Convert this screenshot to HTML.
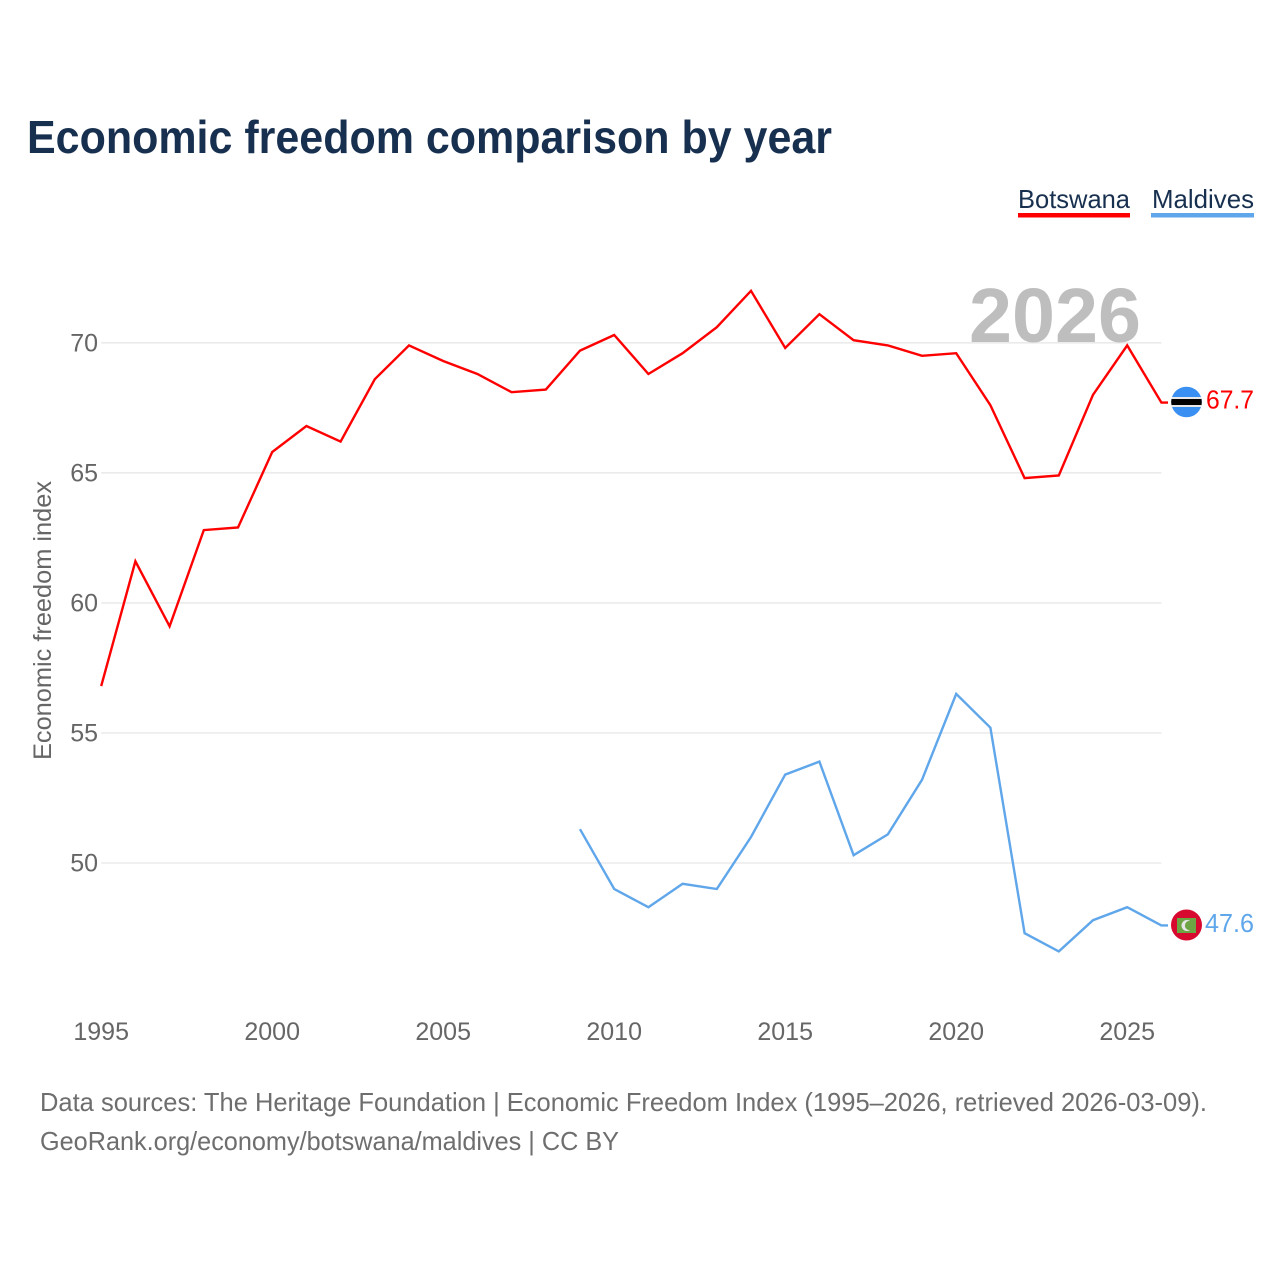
<!DOCTYPE html>
<html lang="en">
<head>
<meta charset="utf-8">
<title>Economic freedom comparison by year</title>
<style>
html,body{margin:0;padding:0;background:#fff;}
svg{display:block;font-family:"Liberation Sans",sans-serif;}
</style>
</head>
<body>
<svg id="chart" xmlns="http://www.w3.org/2000/svg" width="1280" height="1280" viewBox="0 0 1280 1280">
  <rect width="1280" height="1280" fill="#ffffff"/>
  <text x="27" y="153" font-size="46" font-weight="700" fill="#18304f" textLength="805" lengthAdjust="spacingAndGlyphs">Economic freedom comparison by year</text>
  <g id="grid"></g>
  <text x="969" y="342" font-size="77" font-weight="700" fill="#bebebe" textLength="172" lengthAdjust="spacingAndGlyphs">2026</text>
  <g id="yticks"></g>
  <g id="xticks"></g>
  <text transform="translate(51,760) rotate(-90)" font-size="25" fill="#666666" textLength="279" lengthAdjust="spacingAndGlyphs">Economic freedom index</text>
  <g id="series"></g>

  <g>
    <text x="1018" y="208" font-size="26" fill="#18304f" textLength="112" lengthAdjust="spacingAndGlyphs">Botswana</text>
    <rect x="1018" y="213" width="112" height="4.5" fill="#ff0000"/>
  </g>
  <g>
    <text x="1152" y="208" font-size="26" fill="#18304f" textLength="102" lengthAdjust="spacingAndGlyphs">Maldives</text>
    <rect x="1151" y="213" width="103" height="4.5" fill="#5fa6ea"/>
  </g>

  <defs>
    <clipPath id="clip-bw"><circle cx="1186.5" cy="402" r="15.3"/></clipPath>
    <clipPath id="clip-mv"><circle cx="1186.5" cy="925" r="15.5"/></clipPath>
  </defs>
  <g id="flag-botswana" clip-path="url(#clip-bw)">
    <rect x="1170" y="386" width="34" height="32" fill="#3a8ff2"/>
    <rect x="1170" y="397" width="34" height="10" fill="#e8e8e8"/>
    <rect x="1170" y="399" width="34" height="6" fill="#000000"/>
  </g>
  <g id="flag-maldives" clip-path="url(#clip-mv)">
    <rect x="1170" y="909" width="34" height="32" fill="#d8092f"/>
    <rect x="1177" y="918" width="19" height="15" fill="#6ea544"/>
    <circle cx="1187" cy="925.5" r="5.5" fill="#e6e6e6"/>
    <circle cx="1189.5" cy="925.5" r="4.6" fill="#6ea544"/>
  </g>

  <text x="1206" y="408.5" font-size="26" fill="#ff0000" textLength="48" lengthAdjust="spacingAndGlyphs">67.7</text>
  <text x="1205" y="932" font-size="26" fill="#5fa6ea" textLength="49" lengthAdjust="spacingAndGlyphs">47.6</text>

  <g font-size="26" fill="#6e6e6e">
    <text x="40" y="1111" textLength="1167" lengthAdjust="spacingAndGlyphs">Data sources: The Heritage Foundation | Economic Freedom Index (1995–2026, retrieved 2026-03-09).</text>
    <text x="40" y="1150" textLength="579" lengthAdjust="spacingAndGlyphs">GeoRank.org/economy/botswana/maldives | CC BY</text>
  </g>
</svg>
<script>
const botswanaYears = [1995,1996,1997,1998,1999,2000,2001,2002,2003,2004,2005,2006,2007,2008,2009,2010,2011,2012,2013,2014,2015,2016,2017,2018,2019,2020,2021,2022,2023,2024,2025,2026];
const botswanaValues = [56.8,61.6,59.1,62.8,62.9,65.8,66.8,66.2,68.6,69.9,69.3,68.8,68.1,68.2,69.7,70.3,68.8,69.6,70.6,72.0,69.8,71.1,70.1,69.9,69.5,69.6,67.6,64.8,64.9,68.0,69.9,67.7];
const maldivesYears = [2009,2010,2011,2012,2013,2014,2015,2016,2017,2018,2019,2020,2021,2022,2023,2024,2025,2026];
const maldivesValues = [51.3,49.0,48.3,49.2,49.0,51.0,53.4,53.9,50.3,51.1,53.2,56.5,55.2,47.3,46.6,47.8,48.3,47.6];
const yTicks = [50,55,60,65,70];
const xTicks = [1995,2000,2005,2010,2015,2020,2025];

const NS = 'http://www.w3.org/2000/svg';
function xScale(year){ return 101.2 + (year - 1995) * 34.2; }
function yScale(value){ return 863.0 - (value - 50) * 26.01; }

const grid = document.getElementById('grid');
const yGroup = document.getElementById('yticks');
yTicks.forEach(function(t){
  const line = document.createElementNS(NS,'line');
  
  
  line.setAttribute('x1', xScale(1995));
  line.setAttribute('x2', xScale(2026));
  line.setAttribute('y1', yScale(t));
  line.setAttribute('y2', yScale(t));
  line.setAttribute('stroke', '#ebebeb');
  line.setAttribute('stroke-width', '1.6');
  grid.appendChild(line);
  const label = document.createElementNS(NS,'text');
  
  
  label.setAttribute('x', 98);
  label.setAttribute('y', yScale(t) + 8.5);
  label.setAttribute('text-anchor', 'end');
  label.setAttribute('font-size', '25');
  label.setAttribute('fill', '#666666');
  label.textContent = t;
  yGroup.appendChild(label);
});

const xGroup = document.getElementById('xticks');
xTicks.forEach(function(t){
  const label = document.createElementNS(NS,'text');
  
  
  label.setAttribute('x', xScale(t));
  label.setAttribute('y', 1040);
  label.setAttribute('text-anchor', 'middle');
  label.setAttribute('font-size', '25');
  label.setAttribute('fill', '#666666');
  label.textContent = t;
  xGroup.appendChild(label);
});

function pointsFor(years, values){
  return years.map(function(y,i){ return xScale(y).toFixed(1) + ',' + yScale(values[i]).toFixed(1); }).join(' ');
}
const seriesGroup = document.getElementById('series');

const lineBw = document.createElementNS(NS,'polyline');


lineBw.setAttribute('points', pointsFor(botswanaYears, botswanaValues) + ' 1168,' + yScale(botswanaValues[botswanaValues.length-1]).toFixed(1));
lineBw.setAttribute('fill', 'none');
lineBw.setAttribute('stroke', '#ff0000');
lineBw.setAttribute('stroke-width', '2.4');
seriesGroup.appendChild(lineBw);

const lineMv = document.createElementNS(NS,'polyline');


lineMv.setAttribute('points', pointsFor(maldivesYears, maldivesValues) + ' 1168,' + yScale(maldivesValues[maldivesValues.length-1]).toFixed(1));
lineMv.setAttribute('fill', 'none');
lineMv.setAttribute('stroke', '#5fa6ea');
lineMv.setAttribute('stroke-width', '2.4');
seriesGroup.appendChild(lineMv);
</script>
</body>
</html>
